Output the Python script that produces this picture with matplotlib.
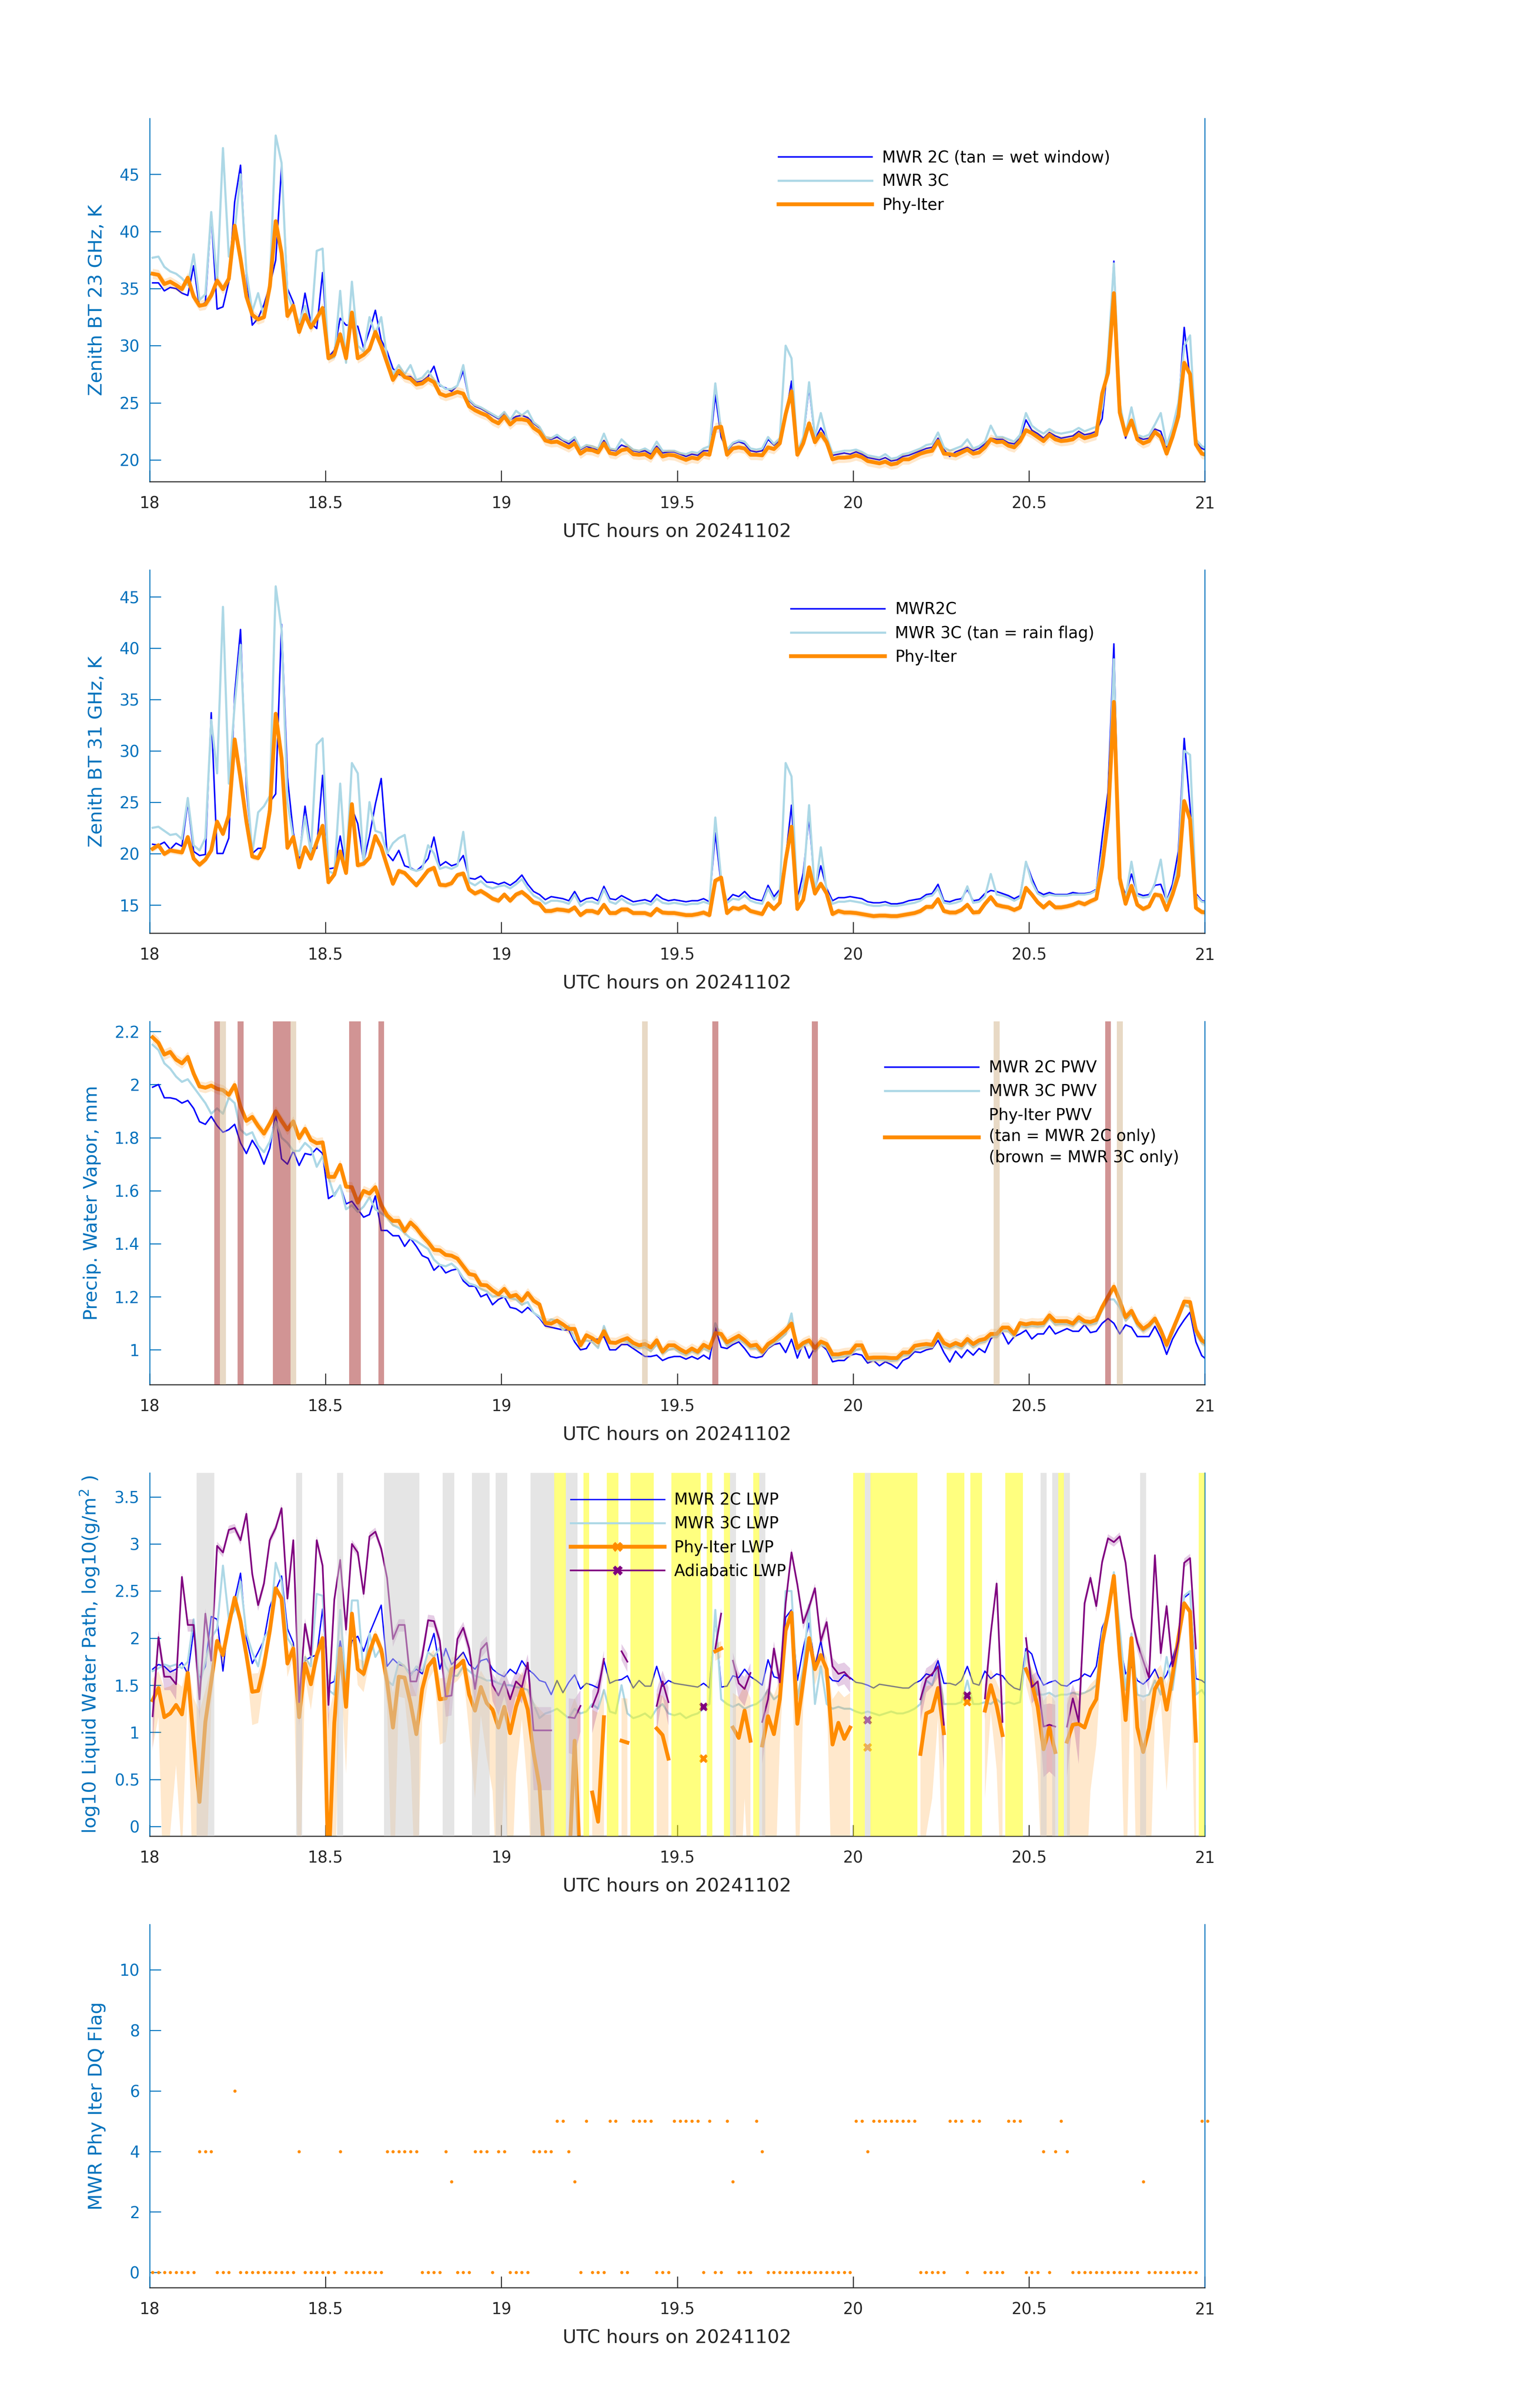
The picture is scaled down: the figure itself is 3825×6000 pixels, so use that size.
import numpy as np
import matplotlib
matplotlib.use("Agg")
import matplotlib.pyplot as plt
from matplotlib.lines import Line2D

nan = np.nan

# ---------------- data (one value per minute, 18:00:30 ... 21:00:30 UTC) ----------------
BT23_MWR2C = [
    35.5, 35.5, 34.8, 35.1, 35.0, 34.6, 34.4, 37.0, 33.4, 33.8,
    41.5, 33.2, 33.4, 35.6, 42.6, 45.8, 36.2, 31.8, 32.4, 33.6,
    35.3, 37.5, 45.7, 35.0, 33.8, 31.5, 34.6, 32.0, 31.5, 36.4,
    29.0, 29.6, 32.4, 31.8, 31.8, 31.7, 29.8, 31.3, 33.1, 30.5,
    29.5, 28.0, 27.5, 27.3, 27.3, 26.8, 26.9, 27.3, 28.2, 26.5,
    26.3, 26.0, 26.5, 27.8, 25.2, 24.7, 24.5, 24.2, 23.9, 23.6,
    24.1, 23.5, 23.8, 23.9, 23.7, 23.2, 22.8, 22.0, 21.8, 22.0,
    21.7, 21.4, 21.8, 20.9, 21.2, 21.0, 20.9, 21.7, 20.9, 20.8,
    21.3, 21.1, 20.8, 20.7, 20.8, 20.5, 21.2, 20.6, 20.7, 20.7,
    20.5, 20.3, 20.5, 20.4, 20.8, 20.8, 25.7, 22.0, 20.8, 21.4,
    21.6, 21.4, 20.8, 20.7, 20.8, 21.8, 21.3, 21.7, 23.8, 26.9,
    20.5, 21.8, 26.4, 21.8, 22.8, 22.0, 20.4, 20.5, 20.6, 20.5,
    20.7, 20.5, 20.2, 20.1, 20.0, 20.2, 19.9, 20.0, 20.3, 20.4,
    20.6, 20.8, 21.0, 21.1, 21.9, 20.9, 20.3, 20.7, 20.9, 21.1,
    20.8, 21.0, 21.4, 21.9, 21.8, 21.8, 21.5, 21.4, 21.9, 23.5,
    22.6, 22.3, 21.9, 22.4, 22.1, 21.9, 22.0, 22.1, 22.5, 22.2,
    22.3, 22.5, 23.6, 28.5, 37.4, 25.0, 21.9, 23.5, 22.0, 21.8,
    21.9, 22.7, 22.5, 21.0, 22.3, 24.5, 31.6, 27.0, 21.6, 21.0, 20.8]
BT23_MWR3C = [
    37.7, 37.8, 36.9, 36.5, 36.3, 35.9, 35.3, 38.0, 34.0, 34.5,
    41.7, 35.5, 47.3, 37.8, 40.0, 45.0, 36.5, 33.0, 34.6, 32.5,
    35.5, 48.4, 46.0, 34.5, 33.2, 32.0, 33.5, 31.5, 38.3, 38.5,
    28.8, 29.0, 34.8, 28.5, 35.6, 30.0, 29.5, 32.5, 31.0, 32.5,
    29.0, 27.5, 28.3, 27.5, 28.3, 27.0, 27.2, 27.8, 27.0, 26.6,
    26.2, 26.2, 26.5, 28.3, 25.3, 24.8, 24.6, 24.3, 24.0, 23.7,
    24.2, 23.5, 24.3, 23.9, 24.3, 23.3, 22.9, 22.0, 21.9, 22.2,
    21.8, 21.6, 22.0, 21.0, 21.3, 21.2, 21.0, 22.3, 21.0, 20.9,
    21.8, 21.3, 20.9, 20.8, 21.0, 20.7, 21.6, 20.8, 20.8, 20.8,
    20.6, 20.5, 20.7, 20.6, 21.0, 21.2, 26.7, 22.5, 20.9, 21.5,
    21.7, 21.6, 21.0, 20.9, 21.0, 22.0, 21.4, 21.9, 30.0, 28.9,
    20.7, 22.0, 26.8, 22.0, 24.1, 22.0, 20.6, 20.7, 20.8, 20.8,
    20.9, 20.7, 20.4, 20.3, 20.2, 20.5, 20.1, 20.2, 20.5, 20.6,
    20.8, 21.0, 21.3, 21.4, 22.4, 21.1, 20.8, 21.0, 21.2, 21.8,
    21.0, 21.2, 21.6, 23.0, 22.0, 22.0, 21.8, 21.6, 22.2, 24.1,
    23.0, 22.6, 22.3, 22.7, 22.4, 22.3, 22.4, 22.5, 22.8, 22.5,
    22.7, 22.9, 24.5, 29.0, 37.2, 25.0, 22.3, 24.6, 22.2, 22.0,
    22.2, 23.1, 24.1, 21.3, 22.8, 25.0, 30.0, 30.9, 21.8, 21.2, 21.0]
BT23_PHY = [
    36.3, 36.2, 35.4, 35.6, 35.3, 34.95, 35.95, 34.3, 33.5, 33.6,
    34.4, 35.7, 34.95, 35.85, 40.5, 37.6, 34.3, 32.7, 32.3, 32.5,
    35.2, 40.9, 38.1, 32.6, 33.5, 31.2, 32.7, 31.6, 32.4, 33.3,
    28.9, 29.2, 31.0, 28.9, 32.9, 28.9, 29.2, 29.7, 31.2, 30.0,
    28.5, 27.0, 27.8, 27.25, 27.1, 26.6, 26.7, 27.1, 26.8, 25.8,
    25.6, 25.75, 25.95, 25.8, 24.7, 24.35, 24.1, 23.9, 23.45, 23.2,
    23.8, 23.1, 23.55, 23.55, 23.45, 22.8, 22.45, 21.7, 21.55, 21.6,
    21.35, 21.1, 21.45, 20.55, 20.9, 20.85, 20.65, 21.45, 20.6, 20.5,
    20.85, 20.95, 20.5, 20.45, 20.5, 20.2, 20.95, 20.3, 20.45, 20.4,
    20.2, 20.0, 20.2, 20.1, 20.55, 20.45, 22.8, 22.9, 20.45, 21.0,
    21.1, 21.0, 20.45, 20.45, 20.4, 21.1, 20.95, 21.45, 24.0, 26.0,
    20.45, 21.45, 23.2, 21.55, 22.3, 21.55, 20.05, 20.2, 20.2, 20.25,
    20.4, 20.25, 19.9, 19.8, 19.7, 19.85, 19.6, 19.7, 20.05, 20.05,
    20.3, 20.55, 20.7, 20.8, 21.65, 20.55, 20.5, 20.4, 20.65, 20.9,
    20.55, 20.65, 21.1, 21.8, 21.55, 21.6, 21.25, 21.1, 21.65, 22.6,
    22.35, 22.0, 21.65, 22.2, 21.8, 21.65, 21.7, 21.8, 22.2, 21.9,
    22.05, 22.2, 25.8, 27.6, 34.6, 24.15, 22.2, 23.45, 21.8, 21.45,
    21.65, 22.45, 22.0, 20.55, 22.0, 23.8, 28.5, 27.5, 21.35, 20.55, 20.4]
BT23_UNC = 0.45

BT31_MWR2C = [
    20.9, 20.8, 21.1, 20.4, 21.0, 20.7, 25.0, 20.2, 19.8, 19.9,
    33.7, 20.0, 20.0, 21.5, 35.5, 41.8, 26.4, 20.0, 20.5, 20.5,
    25.0, 25.8, 42.3, 27.4, 22.0, 19.5, 24.6, 20.5, 20.5, 27.6,
    18.5, 18.6, 21.7, 18.5, 24.4, 22.9, 19.2, 21.7, 24.8, 27.3,
    20.0, 19.3, 20.3, 18.8, 18.6, 18.3, 18.8, 19.5, 21.6, 18.8,
    19.2, 18.8, 19.0, 19.8, 17.6, 17.5, 17.8, 17.2, 17.2, 17.0,
    17.2, 16.9, 17.3, 17.9, 17.0, 16.3, 16.0, 15.5, 15.8, 15.7,
    15.6, 15.4, 16.3, 15.3, 15.6, 15.7, 15.4, 16.8, 15.6, 15.5,
    15.9, 15.6, 15.3, 15.4,
    15.5, 15.3, 16.0, 15.6, 15.4, 15.5, 15.4, 15.3, 15.4, 15.4,
    15.6, 15.3, 22.0, 17.0, 15.4, 16.0, 15.8, 16.3, 15.7, 15.5,
    15.4, 16.9, 15.8, 16.5, 19.5, 24.7, 15.6, 18.1, 23.5, 16.4,
    18.8, 16.6, 15.4, 15.7, 15.7, 15.8, 15.7, 15.6, 15.3, 15.2,
    15.2, 15.3, 15.1, 15.1, 15.2, 15.4, 15.5, 15.6, 16.0, 16.1,
    17.0, 15.4, 15.3, 15.5, 15.6, 16.5, 15.4, 15.5, 16.1, 16.4,
    16.3, 16.1, 15.9, 15.6, 15.9, 19.2, 17.6, 16.3, 16.0, 16.2,
    16.0, 16.0, 16.0, 16.2, 16.1, 16.1, 16.2, 16.5, 21.5, 26.0,
    40.4, 17.5, 16.0, 18.0, 16.1, 15.9, 16.0, 16.9, 17.0, 15.4,
    17.0, 20.2, 31.2, 24.5, 16.1, 15.4, 15.3]
BT31_MWR3C = [
    22.5, 22.6, 22.2, 21.8, 21.9, 21.4, 25.4, 20.8, 20.3, 21.5,
    33.0, 27.8, 44.0, 26.8, 34.5, 40.3, 27.5, 20.0, 24.0, 24.6,
    25.6, 46.0, 41.8, 25.0, 21.5, 19.8, 23.6, 20.0, 30.6, 31.2,
    18.3, 18.0, 26.8, 18.3, 28.8, 27.8, 19.0, 25.0, 22.2, 22.0,
    20.0, 21.0, 21.5, 21.8, 18.5, 18.3, 18.5, 20.8, 20.0, 18.5,
    18.7, 18.5, 18.8, 22.1, 17.2, 16.9, 17.3, 16.8, 16.6, 16.8,
    16.9, 16.6, 17.0, 17.5, 16.6, 15.9, 15.6, 15.1, 15.4, 15.4,
    15.3, 15.1, 16.0, 14.9, 15.3, 15.3, 15.1, 16.5, 15.3, 15.1,
    15.6, 15.2, 15.0, 15.1,
    15.2, 15.0, 15.6, 15.2, 15.1, 15.2, 15.1, 15.0, 15.1, 15.1,
    15.3, 15.1, 23.5, 17.5, 15.2, 15.6, 15.5, 15.9, 15.4, 15.2,
    15.1, 16.6, 15.5, 16.2, 28.8, 27.5, 15.3, 17.0, 24.7, 16.0,
    20.6, 16.3, 15.1, 15.3, 15.3, 15.4, 15.3, 15.2, 15.0, 14.9,
    14.9, 15.0, 14.9, 14.9, 15.0, 15.1, 15.2, 15.4, 15.8, 15.9,
    16.6, 15.2, 15.1, 15.2, 15.4, 16.8, 15.2, 15.3, 15.8, 18.0,
    16.0, 15.9, 15.7, 15.4, 15.7, 19.2, 17.2, 16.1, 15.8, 16.0,
    15.9, 15.9, 15.9, 16.0, 16.0, 16.0, 16.1, 16.4, 20.0, 24.0,
    38.9, 17.0, 15.7, 19.2, 15.9, 15.7, 15.8, 17.1, 19.4, 15.3,
    16.5, 19.0, 30.0, 29.6, 15.9, 15.3, 15.2]
BT31_PHY = [
    20.45, 20.8, 19.95, 20.3, 20.2, 20.1, 21.6, 19.5, 18.9, 19.4,
    20.3, 23.1, 21.9, 23.7, 31.1, 27.3, 23.1, 19.7, 19.55, 20.6,
    24.2, 33.6, 29.3, 20.55, 21.6, 18.65, 20.6, 19.5, 21.1, 22.7,
    17.2, 17.95, 20.2, 18.1, 24.8, 18.85, 19.0, 19.6, 21.7, 20.6,
    18.8, 17.05, 18.3, 18.1, 17.5, 16.9, 17.6, 18.35, 18.6, 16.95,
    16.9, 17.1, 17.9, 18.05, 16.5, 16.1, 16.35, 16.0, 15.6, 15.4,
    16.0, 15.4, 16.0, 16.25, 15.8, 15.25, 15.1, 14.4, 14.4, 14.55,
    14.5, 14.4, 14.75, 14.0, 14.4, 14.4, 14.2, 15.0, 14.2, 14.2,
    14.55, 14.55, 14.2, 14.2, 14.2, 14.0, 14.6, 14.25, 14.2, 14.2,
    14.1, 14.0, 14.0, 14.1, 14.25, 14.0, 17.35, 17.65, 14.2, 14.7,
    14.6, 14.85, 14.4, 14.25, 14.1, 15.15, 14.6, 15.2, 19.35, 22.6,
    14.6, 15.5, 18.65, 16.1, 17.05, 16.1, 14.1, 14.4, 14.25, 14.25,
    14.2, 14.1, 14.0, 13.9, 13.95, 13.95, 13.9, 13.9, 14.0, 14.1,
    14.2, 14.4, 14.8, 14.8, 15.55, 14.4, 14.25, 14.25, 14.5, 15.0,
    14.25, 14.3, 15.1, 15.75, 15.0, 14.85, 14.75, 14.5, 14.75, 16.65,
    16.0, 15.25, 14.75, 15.25, 14.75, 14.75, 14.85, 15.0, 15.25, 15.05,
    15.35, 15.6, 18.7, 23.3, 34.75, 17.6, 15.1, 16.85, 15.0, 14.6,
    14.85, 16.0, 15.9, 14.5, 16.0, 17.85, 25.1, 23.3, 14.7, 14.3, 14.25]
BT31_UNC = 0.3

PWV_MWR2C = [
    1.99, 2.0, 1.95, 1.95, 1.945, 1.93, 1.94, 1.91, 1.86, 1.85,
    1.88, 1.845, 1.82, 1.83, 1.85, 1.78, 1.74, 1.79, 1.755, 1.70,
    1.76, 1.89, 1.72, 1.70, 1.75, 1.695, 1.74, 1.735, 1.76, 1.74,
    1.57, 1.585, 1.62, 1.55, 1.56, 1.53, 1.50, 1.51, 1.58, 1.45,
    1.45, 1.43, 1.43, 1.39, 1.42, 1.39, 1.355, 1.345, 1.30, 1.32,
    1.29, 1.30, 1.305, 1.26, 1.24, 1.24, 1.20, 1.21, 1.17, 1.19,
    1.20, 1.16, 1.155, 1.14, 1.16, 1.14, 1.12, 1.09, 1.085, 1.08,
    1.075, 1.075, 1.03, 1.0, 1.005, 1.04, 1.04, 1.05, 1.0, 1.0,
    1.02, 1.02, 1.005, 0.99,
    0.975, 0.975, 0.98, 0.96, 0.97, 0.975, 0.975, 0.965, 0.975, 0.965,
    0.98, 0.965, 1.084, 1.01, 1.005, 1.02, 1.03, 1.005, 0.975, 0.97,
    0.975, 1.005, 1.02, 1.025, 0.99, 1.04, 0.969, 1.026, 0.969, 1.01,
    1.02, 1.0, 0.955, 0.96, 0.96, 0.98, 0.985, 0.98, 0.95, 0.96,
    0.94, 0.955, 0.945, 0.93, 0.96, 0.97, 0.993, 0.99, 1.0, 1.005,
    1.036, 0.99, 0.954, 0.995, 0.97, 1.0, 0.98, 1.005, 0.99, 1.041,
    1.062, 1.065, 1.022, 1.05, 1.06, 1.074, 1.041, 1.06, 1.06, 1.09,
    1.06, 1.07, 1.08, 1.07, 1.07, 1.095, 1.065, 1.07, 1.10, 1.118,
    1.10, 1.06, 1.094, 1.085, 1.05, 1.05, 1.05, 1.089, 1.045, 0.983,
    1.04, 1.08, 1.113, 1.142, 1.03, 0.978, 0.96]
PWV_MWR3C = [
    2.15, 2.13, 2.08, 2.06, 2.03, 2.01, 2.02, 1.99, 1.96, 1.93,
    1.89, 1.91, 1.89, 1.95, 1.93, 1.83, 1.81, 1.82, 1.77, 1.745,
    1.785, 1.86, 1.80, 1.78, 1.75, 1.75, 1.78, 1.76, 1.69, 1.73,
    1.65, 1.58, 1.62, 1.53, 1.545, 1.52, 1.54, 1.575, 1.53, 1.515,
    1.50, 1.47, 1.46, 1.44, 1.42, 1.41, 1.395, 1.38, 1.34, 1.32,
    1.315, 1.325, 1.305, 1.27, 1.25, 1.243, 1.23, 1.22, 1.20, 1.205,
    1.20, 1.195, 1.19, 1.17, 1.18, 1.14, 1.125, 1.10, 1.115, 1.11,
    1.075, 1.09, 1.04, 1.03, 1.035, 1.03, 1.007, 1.09, 1.03, 1.025,
    1.035, 1.03, 1.012, 1.007,
    1.01, 0.995, 1.02, 0.985, 1.0, 1.005, 0.99, 0.98, 0.995, 0.985,
    1.005, 0.995, 1.10, 1.05, 1.015, 1.03, 1.04, 1.025, 1.005, 1.005,
    0.985, 1.01, 1.025, 1.04, 1.06, 1.137, 0.995, 1.015, 1.03, 0.995,
    1.02, 1.01, 0.97, 0.972, 0.975, 0.98, 1.0, 1.005, 0.96, 0.96,
    0.962, 0.96, 0.958, 0.96, 0.978, 0.98, 1.0, 1.005, 1.01, 1.01,
    1.05, 1.01, 1.005, 1.015, 1.005, 1.03, 1.01, 1.025, 1.03, 1.05,
    1.048, 1.072, 1.07, 1.05, 1.09, 1.085, 1.09, 1.087, 1.09, 1.12,
    1.095, 1.097, 1.096, 1.09, 1.11, 1.097, 1.095, 1.10, 1.15, 1.19,
    1.19, 1.16, 1.11, 1.135, 1.09, 1.07, 1.085, 1.11, 1.065, 1.01,
    1.06, 1.12, 1.17, 1.16, 1.06, 1.025, 1.012]
PWV_PHY = [
    2.178, 2.157, 2.113, 2.123, 2.094, 2.080, 2.104, 2.041, 1.993, 1.988,
    1.996, 1.984, 1.979, 1.961, 1.998, 1.916, 1.863, 1.878, 1.844, 1.815,
    1.854, 1.899, 1.863, 1.830, 1.861, 1.798, 1.833, 1.791, 1.779, 1.782,
    1.652, 1.652, 1.697, 1.615, 1.613, 1.555, 1.599, 1.589, 1.613, 1.546,
    1.507, 1.486, 1.486, 1.448, 1.480, 1.459, 1.430, 1.406, 1.377, 1.375,
    1.358, 1.355, 1.344, 1.315, 1.286, 1.281, 1.245, 1.243, 1.224, 1.209,
    1.230, 1.201, 1.207, 1.185, 1.214, 1.185, 1.171, 1.101, 1.099, 1.110,
    1.096, 1.079, 1.079, 1.017, 1.055, 1.044, 1.028, 1.070, 1.028, 1.026,
    1.036, 1.044, 1.026, 1.017,
    1.022, 1.009, 1.036, 0.993, 1.017, 1.017, 1.002, 0.990, 1.005, 0.993,
    1.019, 1.007, 1.063, 1.060, 1.028, 1.041, 1.053, 1.036, 1.015, 1.019,
    0.993, 1.022, 1.036, 1.055, 1.074, 1.099, 1.007, 1.026, 1.036, 1.007,
    1.031, 1.022, 0.983, 0.983, 0.988, 0.990, 1.017, 1.017, 0.969, 0.971,
    0.971, 0.971, 0.969, 0.969, 0.990, 0.990, 1.015, 1.019, 1.022, 1.019,
    1.060, 1.026, 1.015, 1.026, 1.017, 1.041, 1.022, 1.036, 1.041, 1.060,
    1.060, 1.084, 1.084, 1.060, 1.101, 1.096, 1.101, 1.099, 1.101, 1.130,
    1.108, 1.108, 1.108, 1.099, 1.123, 1.108, 1.105, 1.113, 1.161, 1.200,
    1.238, 1.185, 1.123, 1.147, 1.103, 1.079, 1.094, 1.118, 1.074, 1.019,
    1.074, 1.127, 1.182, 1.180, 1.074, 1.036, 1.022]
PWV_UNC = 0.02
PWV_2C_ONLY_MIN = [12, 24, 84, 144, 165]                       # tan bands (minute index)
PWV_3C_ONLY_MIN = [11, 15, 21, 22, 23, 34, 35, 39, 96, 113, 163]  # brown bands

LWP_MWR2C = [
    1.67, 1.72, 1.70, 1.64, 1.67, 1.74, 1.62, 2.08, 1.57, 1.70,
    2.23, 2.20, 1.65, 2.22, 2.41, 2.69, 2.00, 1.73, 1.85, 1.98,
    2.33, 2.51, 2.66, 2.10, 1.95, 1.32, 1.76, 1.80, 1.82, 2.31,
    1.51, 1.54, 1.97, 1.59, 1.97, 2.02, 1.86, 2.05, 2.20, 2.35,
    1.70, 1.78, 1.72, 1.70, 1.62, 1.67, 1.62, 1.86, 2.05, 1.67,
    1.89, 1.72, 1.78, 1.85, 1.72, 1.67, 1.76, 1.78, 1.67, 1.62,
    1.59, 1.67, 1.62, 1.76, 1.67, 1.62, 1.55, 1.53, 1.40, 1.55,
    1.42, 1.53, 1.61, 1.46, 1.52, 1.50, 1.47, 1.76, 1.52, 1.55,
    1.56, 1.60, 1.47, 1.55, 1.49, 1.49, 1.70, 1.49, 1.55, 1.52,
    1.51, 1.50, 1.49, 1.48, 1.52, 1.47, 2.22, 1.48, 1.49, 1.60,
    1.58, 1.67, 1.59, 1.55, 1.50, 1.77, 1.59, 1.57, 2.22, 2.30,
    1.55, 1.89, 2.16, 1.70, 1.97, 1.62, 1.55, 1.54, 1.61, 1.58,
    1.53, 1.52, 1.50, 1.47, 1.51, 1.50, 1.49, 1.48, 1.47, 1.47,
    1.52, 1.55, 1.62, 1.60, 1.76, 1.52, 1.52, 1.50, 1.55, 1.70,
    1.52, 1.50, 1.65, 1.57, 1.62, 1.60, 1.52, 1.47, 1.45, 1.89,
    1.83, 1.62, 1.50, 1.53, 1.55, 1.50, 1.49, 1.54, 1.56, 1.62,
    1.59, 1.70, 2.11, 2.25, 2.68, 1.95, 1.62, 1.70, 1.55, 1.51,
    1.57, 1.67, 1.52, 1.61, 1.78, 2.00, 2.43, 2.48, 1.57, 1.55, 1.50]
LWP_MWR3C = [
    1.65, 1.68, 1.72, 1.70, 1.72, 1.68, 1.75, 2.20, 1.50, 1.75,
    2.00, 2.10, 2.77, 2.20, 2.30, 2.60, 2.05, 1.85, 1.70, 2.00,
    2.10, 2.80, 2.60, 2.00, 1.90, 1.35, 1.80, 1.70, 2.47, 2.45,
    1.45, 1.40, 2.30, 1.50, 2.40, 2.40, 1.60, 2.05, 1.80, 1.90,
    1.55, 1.50, 1.75, 1.70, 1.60, 1.70, 1.65, 1.85, 1.80, 1.90,
    1.70, 1.60, 1.60, 1.70, 1.65, 1.60, 1.58, 1.55, 1.55, 1.52,
    1.50, 1.50, 1.48, 1.47, 1.45, 1.30, 1.15, 1.20, 1.22, 1.25,
    1.20, 1.15, 1.25, 1.20, 1.22, 1.30, 1.25, 1.45, 1.22, 1.20,
    1.50, 1.20, 1.15, 1.17, 1.20, 1.15, 1.25, 1.30, 1.20, 1.18,
    1.20, 1.15, 1.18, 1.20, 1.25, 1.30, 2.30, 1.35, 1.30, 1.27,
    1.30, 1.25, 1.28, 1.30, 1.35, 1.45, 1.35, 1.40, 2.50, 2.50,
    1.35, 1.70, 2.35, 1.30, 1.70, 1.30, 1.25, 1.27, 1.25, 1.25,
    1.22, 1.20, 1.22, 1.20, 1.18, 1.20, 1.22, 1.20, 1.20, 1.22,
    1.25, 1.30, 1.55, 1.50, 1.70, 1.30, 1.30, 1.30, 1.32, 1.55,
    1.30, 1.30, 1.32, 1.30, 1.35, 1.30, 1.32, 1.30, 1.32, 1.85,
    1.60, 1.40, 1.40, 1.42, 1.38, 1.40, 1.40, 1.42, 1.40, 1.42,
    1.45, 1.50, 2.05, 2.30, 2.70, 2.10, 1.45, 2.05, 1.40, 1.38,
    1.40, 1.55, 1.40, 1.80, 1.45, 1.90, 2.45, 2.50, 1.40, 1.45, 1.35]
LWP_PHY = [
    1.34, 1.47, 1.16, 1.20, 1.29, 1.19, 1.63, 0.91, 0.26, 1.11,
    1.54, 1.97, 1.82, 2.14, 2.43, 2.18, 1.82, 1.43, 1.44, 1.71,
    2.08, 2.53, 2.42, 1.73, 1.89, 1.16, 1.73, 1.51, 1.82, 2.00,
    -0.5, 1.10, 1.89, 1.27, 2.26, 1.67, 1.62, 1.85, 2.03, 1.88,
    1.54, 1.05, 1.59, 1.58, 1.31, 0.98, 1.46, 1.70, 1.78, 1.35,
    1.36, 1.67, 1.70, 1.76, 1.40, 1.23, 1.48, 1.31, 1.24, 1.05,
    1.27, 0.99, 1.27, 1.46, 1.24, 0.78, 0.43, -0.5, -0.5, nan,
    nan, -0.5, 0.91, -0.5, nan, 0.36, 0.05, 1.16, nan, nan,
    0.91, 0.89, nan, nan, nan, nan, 1.04, 0.97, 0.72, nan,
    nan, nan, nan, nan, 0.72, nan, 1.86, 1.89, nan, 1.05,
    0.94, 1.23, 0.91, nan, 0.86, 1.17, 0.98, 1.35, 2.08, 2.27,
    1.09, 1.54, 2.00, 1.67, 1.82, 1.67, 0.87, 1.10, 0.93, 1.05,
    nan, nan, 0.84, nan, nan, nan, nan, nan, nan, nan,
    nan, 0.77, 1.20, 1.23, 1.47, 0.99, nan, nan, nan, 1.32,
    nan, nan, 1.23, 1.50, 1.28, 0.97, nan, nan, nan, 1.67,
    1.52, 1.27, 0.82, 1.05, 0.79, nan, 0.90, 1.08, 1.09, 1.05,
    1.24, 1.35, 1.94, 2.27, 2.66, 1.81, 1.13, 2.00, 1.05, 0.79,
    1.04, 1.46, 1.57, 1.24, 1.60, 2.00, 2.37, 2.28, 0.91, nan, nan]
LWP_ADIAB = [
    1.17, 2.01, 1.59, 1.59, 1.51, 2.65, 2.14, 2.14, 1.35, 2.26,
    1.76, 2.98, 2.91, 3.15, 3.17, 3.04, 3.32, 2.68, 2.35, 2.58,
    3.04, 3.17, 3.38, 2.42, 3.04, 1.32, 2.15, 1.82, 3.04, 2.77,
    1.29, 2.41, 2.83, 2.09, 3.00, 2.91, 2.47, 3.08, 3.13, 2.95,
    2.64, 1.99, 2.14, 2.14, 1.54, 1.54, 1.81, 2.19, 2.18, 1.97,
    1.38, 1.39, 1.99, 2.11, 1.89, 1.46, 1.88, 1.95, 1.50, 1.39,
    1.54, 1.35, 1.54, 1.48, 1.74, 1.02, 1.02, 1.02, 1.02, nan,
    nan, 1.16, 1.15, 1.28, nan, 1.27, 1.43, 1.78, nan, nan,
    1.86, 1.75, nan, nan, nan, nan, 1.28, 1.54, 1.32, nan,
    nan, nan, nan, nan, 1.27, nan, 1.89, 2.26, nan, 1.76,
    1.52, 1.46, 1.63, nan, 1.11, 1.35, 1.89, 1.53, 2.37, 2.91,
    2.57, 2.16, 2.33, 2.53, 1.97, 2.17, 1.70, 1.62, 1.64, 1.57,
    nan, nan, 1.13, nan, nan, nan, nan, nan, nan, nan,
    nan, 1.35, 1.57, 1.62, 1.70, 1.08, nan, nan, nan, 1.39,
    nan, nan, 1.36, 2.05, 2.58, 1.11, nan, nan, nan, 2.00,
    1.48, 1.54, 1.06, 1.08, 1.06, nan, 1.06, 1.36, 1.11, 2.37,
    2.64, 2.34, 2.81, 3.06, 3.02, 3.08, 2.80, 2.22, 1.95, 1.76,
    1.58, 2.88, 1.84, 2.34, 1.70, 1.97, 2.80, 2.85, 1.89, nan, nan]
LWP_PHY_SIGMA = 15.0          # g/m2
LWP_AD_REL, LWP_AD_ABS = 0.10, 7.0

DQ_FLAG = [
    0, 0, 0, 0, 0, 0, 0, 0, 4, 4,
    4, 0, 0, 0, 6, 0, 0, 0, 0, 0,
    0, 0, 0, 0, 0, 4, 0, 0, 0, 0,
    0, 0, 4, 0, 0, 0, 0, 0, 0, 0,
    4, 4, 4, 4, 4, 4, 0, 0, 0, 0,
    4, 3, 0, 0, 0, 4, 4, 4, 0, 4,
    4, 0, 0, 0, 0, 4, 4, 4, 4, 5,
    5, 4, 3, 0, 5, 0, 0, 0, 5, 5,
    0, 0, 5, 5, 5, 5, 0, 0, 0, 5,
    5, 5, 5, 5, 0, 5, 0, 0, 5, 3,
    0, 0, 0, 5, 4, 0, 0, 0, 0, 0,
    0, 0, 0, 0, 0, 0, 0, 0, 0, 0,
    5, 5, 4, 5, 5, 5, 5, 5, 5, 5,
    5, 0, 0, 0, 0, 0, 5, 5, 5, 0,
    5, 5, 0, 0, 0, 0, 5, 5, 5, 0,
    0, 0, 4, 0, 4, 5, 4, 0, 0, 0,
    0, 0, 0, 0, 0, 0, 0, 0, 0, 3,
    0, 0, 0, 0, 0, 0, 0, 0, 0, 5, 5]

XTICKS = [18, 18.5, 19, 19.5, 20, 20.5, 21]
XTICKLABELS = ["18", "18.5", "19", "19.5", "20", "20.5", "21"]
XLABEL = "UTC hours on 20241102"

# ---------------- styling ----------------
AXBLUE = (0.0, 0.447, 0.741)
DARK = (0.15, 0.15, 0.15)
BROWN = "#A52A2A"
TAN = "#D2B48C"
TICKFS = 9.5
LABFS = 11.3
LEGFS = 9.5

plt.rcParams["font.family"] = ["DejaVu Sans"]
plt.rcParams["mathtext.fontset"] = "dejavusans"

fig = plt.figure(figsize=(12.75, 20), dpi=300)
LEFT, WIDTH, HEIGHT = 373 / 3825, 2629 / 3825, 905 / 6000
BOTTOMS = [0.8, 0.6125, 0.425, 0.2375, 0.05]
axes = [fig.add_axes([LEFT, b, WIDTH, HEIGHT]) for b in BOTTOMS]


def tm(n):
    return 18 + (np.arange(n) + 0.5) / 60.0


def style(ax, ylim, yticks, ylabels, ylabel):
    ax.set_xlim(18, 21)
    ax.set_ylim(*ylim)
    ax.set_xticks(XTICKS)
    ax.set_xticklabels(XTICKLABELS)
    ax.set_yticks(yticks)
    ax.set_yticklabels(ylabels)
    ax.spines["top"].set_visible(False)
    for s in ("left", "right"):
        ax.spines[s].set_color(AXBLUE)
        ax.spines[s].set_linewidth(0.6)
    ax.spines["bottom"].set_color(DARK)
    ax.spines["bottom"].set_linewidth(0.6)
    ax.tick_params(axis="y", direction="in", length=6.7, width=0.6,
                   colors=AXBLUE, labelsize=TICKFS, pad=6, right=False)
    ax.tick_params(axis="x", direction="in", length=6.7, width=0.6,
                   colors=DARK, labelsize=TICKFS, pad=8.6, top=False)
    ax.set_ylabel(ylabel, color=AXBLUE, fontsize=LABFS, labelpad=8)
    ax.set_xlabel(XLABEL, color=DARK, fontsize=LABFS, labelpad=6.5)


def legend(ax, handles, labels, x, y, linespacing=None):
    leg = ax.legend(handles, labels, loc="upper left", bbox_to_anchor=(x, y),
                    frameon=False, fontsize=LEGFS, handlelength=5.9,
                    handletextpad=0.63, labelspacing=0.48, borderpad=0,
                    borderaxespad=0)
    if linespacing is not None:
        for t in leg.get_texts():
            t.set_linespacing(linespacing)
    return leg


def band(ax, k, color, alpha=0.5):
    ax.axvspan(18 + k / 60.0, 18 + (k + 1) / 60.0, color=color, alpha=alpha,
               lw=0, zorder=3)


# ---------------- panel 1: 23 GHz ----------------
ax = axes[0]
o = np.array(BT23_PHY)
ax.plot(tm(len(BT23_MWR2C)), BT23_MWR2C, color="blue", lw=0.9, zorder=2)
ax.plot(tm(len(BT23_MWR3C)), BT23_MWR3C, color="lightblue", lw=1.3, zorder=2.1)
ax.fill_between(tm(len(o)), o - BT23_UNC, o + BT23_UNC, color="darkorange",
                alpha=0.2, lw=0, zorder=2.2)
ax.plot(tm(len(o)), o, color="darkorange", lw=2.3, zorder=2.3)
style(ax, (18.1, 49.9), [20, 25, 30, 35, 40, 45],
      ["20", "25", "30", "35", "40", "45"], "Zenith BT 23 GHz, K")
legend(ax, [Line2D([], [], color="blue", lw=0.9),
            Line2D([], [], color="lightblue", lw=1.3),
            Line2D([], [], color="darkorange", lw=2.3)],
       ["MWR 2C (tan = wet window)", "MWR 3C", "Phy-Iter"], 0.596, 0.913)

# ---------------- panel 2: 31 GHz ----------------
ax = axes[1]
o = np.array(BT31_PHY)
ax.plot(tm(len(BT31_MWR2C)), BT31_MWR2C, color="blue", lw=0.9, zorder=2)
ax.plot(tm(len(BT31_MWR3C)), BT31_MWR3C, color="lightblue", lw=1.3, zorder=2.1)
ax.fill_between(tm(len(o)), o - BT31_UNC, o + BT31_UNC, color="darkorange",
                alpha=0.2, lw=0, zorder=2.2)
ax.plot(tm(len(o)), o, color="darkorange", lw=2.3, zorder=2.3)
style(ax, (12.25, 47.6), [15, 20, 25, 30, 35, 40, 45],
      ["15", "20", "25", "30", "35", "40", "45"], "Zenith BT 31 GHz, K")
legend(ax, [Line2D([], [], color="blue", lw=0.9),
            Line2D([], [], color="lightblue", lw=1.3),
            Line2D([], [], color="darkorange", lw=2.3)],
       ["MWR2C", "MWR 3C (tan = rain flag)", "Phy-Iter"], 0.608, 0.912)

# ---------------- panel 3: PWV ----------------
ax = axes[2]
o = np.array(PWV_PHY)
ax.plot(tm(len(PWV_MWR2C)), PWV_MWR2C, color="blue", lw=0.9, zorder=2)
ax.plot(tm(len(PWV_MWR3C)), PWV_MWR3C, color="lightblue", lw=1.3, zorder=2.1)
ax.fill_between(tm(len(o)), o - PWV_UNC, o + PWV_UNC, color="darkorange",
                alpha=0.2, lw=0, zorder=2.2)
ax.plot(tm(len(o)), o, color="darkorange", lw=2.3, zorder=2.3)
for k in PWV_2C_ONLY_MIN:
    band(ax, k, TAN)
for k in PWV_3C_ONLY_MIN:
    band(ax, k, BROWN)
style(ax, (0.869, 2.238), [1, 1.2, 1.4, 1.6, 1.8, 2, 2.2],
      ["1", "1.2", "1.4", "1.6", "1.8", "2", "2.2"], "Precip. Water Vapor, mm")
legend(ax, [Line2D([], [], color="blue", lw=0.9),
            Line2D([], [], color="lightblue", lw=1.3),
            Line2D([], [], color="darkorange", lw=2.3)],
       ["MWR 2C PWV", "MWR 3C PWV",
        "Phy-Iter PWV\n(tan = MWR 2C only)\n(brown = MWR 3C only)"], 0.697, 0.893,
       linespacing=1.4)

# ---------------- panel 4: LWP ----------------
ax = axes[3]
o = np.array(LWP_PHY)
p = np.array(LWP_ADIAB)
T4 = tm(len(o))
Lo = 10 ** o
hi_o = np.log10(Lo + LWP_PHY_SIGMA)
lo_o = np.where(Lo - LWP_PHY_SIGMA > 0, np.log10(np.clip(Lo - LWP_PHY_SIGMA, 1e-6, None)), -1.0)
lo_o[np.isnan(o)] = np.nan
Lp = 10 ** p
sp = LWP_AD_REL * Lp + LWP_AD_ABS
hi_p = np.log10(Lp + sp)
lo_p = np.where(Lp - sp > 0, np.log10(np.clip(Lp - sp, 1e-6, None)), -1.0)
lo_p[np.isnan(p)] = np.nan

ax.plot(tm(len(LWP_MWR2C)), LWP_MWR2C, color="blue", lw=0.8, zorder=2)
ax.plot(tm(len(LWP_MWR3C)), LWP_MWR3C, color="lightblue", lw=1.2, zorder=2.1)
ax.fill_between(T4, lo_o, hi_o, color="darkorange", alpha=0.2, lw=0, zorder=2.2)
ax.fill_between(tm(len(p)), lo_p, hi_p, color="purple", alpha=0.2, lw=0, zorder=2.25)
ax.plot(T4, o, color="darkorange", lw=2.3, zorder=2.3)
ax.plot(tm(len(p)), p, color="purple", lw=1.0, zorder=2.4)


def isolated(v):
    v = np.asarray(v)
    ok = np.isfinite(v)
    left = np.concatenate([[False], ok[:-1]])
    right = np.concatenate([ok[1:], [False]])
    return ok & ~left & ~right


io = isolated(o)
ip = isolated(p)
ax.plot(T4[io], o[io], ls="none", marker="X", ms=5.5, mew=0,
        color="darkorange", zorder=2.35)
ax.plot(tm(len(p))[ip], p[ip], ls="none", marker="X", ms=5.5, mew=0,
        color="purple", zorder=2.45)

flags = np.array(DQ_FLAG)
for k, f in enumerate(flags):
    if f == 5:
        band(ax, k, (1.0, 1.0, 0.0))
    elif f in (3, 4):
        band(ax, k, (0.8, 0.8, 0.8))

style(ax, (-0.103, 3.755), [0, 0.5, 1, 1.5, 2, 2.5, 3, 3.5],
      ["0", "0.5", "1", "1.5", "2", "2.5", "3", "3.5"],
      r"log10 Liquid Water Path, log10(g/m$^2$ )")
legend(ax, [Line2D([], [], color="blue", lw=0.8),
            Line2D([], [], color="lightblue", lw=1.2),
            Line2D([], [], color="darkorange", lw=2.3, marker="X", ms=6, mew=0),
            Line2D([], [], color="purple", lw=1.0, marker="X", ms=6, mew=0)],
       ["MWR 2C LWP", "MWR 3C LWP", "Phy-Iter LWP", "Adiabatic LWP"], 0.399, 0.946)

# ---------------- panel 5: DQ flag ----------------
ax = axes[4]
T5 = tm(len(flags))
ax.plot(T5, flags, ls="none", marker="o", ms=1.9, mew=0, color="darkorange",
        clip_on=False, zorder=2)
style(ax, (-0.5, 11.5), [0, 2, 4, 6, 8, 10],
      ["0", "2", "4", "6", "8", "10"], "MWR Phy Iter DQ Flag")

fig.savefig("out.png", dpi=300, facecolor="white")
